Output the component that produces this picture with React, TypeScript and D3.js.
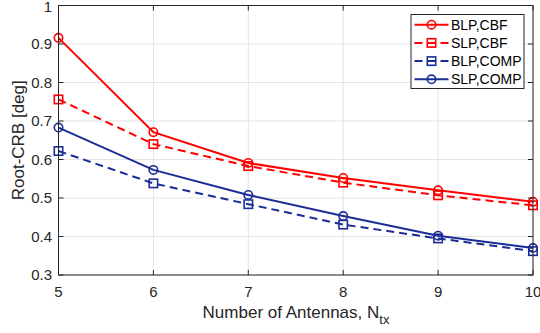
import React from "react";
import * as d3 from "d3";

// Number of transmit antennas
const antennas = [5, 6, 7, 8, 9, 10];

// Root-CRB (degrees) for each scheme
const blpCbf = [0.916, 0.671, 0.591, 0.552, 0.520, 0.490];
const slpCbf = [0.756, 0.640, 0.583, 0.540, 0.507, 0.481];
const blpComp = [0.622, 0.538, 0.484, 0.431, 0.395, 0.362];
const slpComp = [0.683, 0.573, 0.508, 0.453, 0.402, 0.370];

const xTicks = [5, 6, 7, 8, 9, 10];
const yTicks = [0.3, 0.4, 0.5, 0.6, 0.7, 0.8, 0.9, 1];

const RED = "#ff0000";
const BLUE = "#1b2d95";
const AXIS = "#262626";
const GRID = "#e3e3e3";
const FONT = "'Liberation Sans', Arial, Helvetica, sans-serif";

type Series = {
  name: string;
  values: number[];
  color: string;
  dashed: boolean;
  marker: "circle" | "square";
};

const series: Series[] = [
  { name: "BLP,CBF", values: blpCbf, color: RED, dashed: false, marker: "circle" },
  { name: "SLP,CBF", values: slpCbf, color: RED, dashed: true, marker: "square" },
  { name: "BLP,COMP", values: blpComp, color: BLUE, dashed: true, marker: "square" },
  { name: "SLP,COMP", values: slpComp, color: BLUE, dashed: false, marker: "circle" },
];

const W = 540;
const H = 333;
const plot = { left: 58.5, right: 533, top: 5.5, bottom: 275 };

function Marker({ kind, x, y, color }: { kind: string; x: number; y: number; color: string }) {
  if (kind === "circle") {
    return <circle cx={x} cy={y} r={4.2} fill="none" stroke={color} strokeWidth={1.6} />;
  }
  return <rect x={x - 4.2} y={y - 4.2} width={8.4} height={8.4} fill="none" stroke={color} strokeWidth={1.6} />;
}

export default function App() {
  const x = d3.scaleLinear().domain([5, 10]).range([plot.left, plot.right]);
  const y = d3.scaleLinear().domain([0.3, 1]).range([plot.bottom, plot.top]);
  const line = d3
    .line<number>()
    .x((_, i) => x(antennas[i]))
    .y((d) => y(d));

  const tickLen = 5;
  const legend = { x: 411, y: 14.5, w: 113, h: 74, row: 18.2 };

  return (
    <svg
      width={W}
      height={H}
      style={{ position: "absolute", left: 0, top: 0, background: "#fff" }}
      fontFamily={FONT}
    >
      <rect x={0} y={0} width={W} height={H} fill="#fff" />

      {/* grid */}
      {xTicks.map((t) => (
        <line key={"gx" + t} x1={x(t)} x2={x(t)} y1={plot.top} y2={plot.bottom} stroke={GRID} strokeWidth={1} />
      ))}
      {yTicks.map((t) => (
        <line key={"gy" + t} x1={plot.left} x2={plot.right} y1={y(t)} y2={y(t)} stroke={GRID} strokeWidth={1} />
      ))}

      {/* series */}
      {series.map((s) => (
        <g key={s.name}>
          <path
            d={line(s.values) || ""}
            fill="none"
            stroke={s.color}
            strokeWidth={2}
            strokeDasharray={s.dashed ? "8,5" : undefined}
          />
          {s.values.map((v, i) => (
            <Marker key={i} kind={s.marker} x={x(antennas[i])} y={y(v)} color={s.color} />
          ))}
        </g>
      ))}

      {/* axes box and inward ticks */}
      <rect
        x={plot.left}
        y={plot.top}
        width={plot.right - plot.left}
        height={plot.bottom - plot.top}
        fill="none"
        stroke={AXIS}
        strokeWidth={1}
      />
      {xTicks.map((t) => (
        <g key={"tx" + t}>
          <line x1={x(t)} x2={x(t)} y1={plot.bottom} y2={plot.bottom - tickLen} stroke={AXIS} />
          <line x1={x(t)} x2={x(t)} y1={plot.top} y2={plot.top + tickLen} stroke={AXIS} />
          <text x={x(t)} y={297} textAnchor="middle" fontSize={15} fill={AXIS}>
            {t}
          </text>
        </g>
      ))}
      {yTicks.map((t) => (
        <g key={"ty" + t}>
          <line x1={plot.left} x2={plot.left + tickLen} y1={y(t)} y2={y(t)} stroke={AXIS} />
          <line x1={plot.right} x2={plot.right - tickLen} y1={y(t)} y2={y(t)} stroke={AXIS} />
          <text x={52} y={Math.max(y(t), 6.5)} dy="0.36em" textAnchor="end" fontSize={15} fill={AXIS}>
            {t === 1 ? "1" : t.toFixed(1)}
          </text>
        </g>
      ))}

      {/* axis titles */}
      <text x={296} y={318} textAnchor="middle" fontSize={17} fill={AXIS}>
        Number of Antennas, N
        <tspan fontSize={13} dy={6}>
          tx
        </tspan>
      </text>
      <text
        transform={`translate(24, ${(plot.top + plot.bottom) / 2}) rotate(-90)`}
        textAnchor="middle"
        fontSize={17}
        fill={AXIS}
      >
        Root-CRB [deg]
      </text>

      {/* legend */}
      <g>
        <rect x={legend.x} y={legend.y} width={legend.w} height={legend.h} fill="#fff" stroke={AXIS} strokeWidth={1} />
        {series.map((s, i) => {
          const cy = legend.y + 10.2 + i * legend.row;
          return (
            <g key={"lg" + s.name}>
              <line
                x1={legend.x + 3.5}
                x2={legend.x + 37.5}
                y1={cy}
                y2={cy}
                stroke={s.color}
                strokeWidth={2}
                strokeDasharray={s.dashed ? "8,5" : undefined}
              />
              <Marker kind={s.marker} x={legend.x + 20.5} y={cy} color={s.color} />
              <text x={legend.x + 40} y={cy} dy="0.36em" fontSize={14} fill="#000">
                {s.name}
              </text>
            </g>
          );
        })}
      </g>
    </svg>
  );
}
